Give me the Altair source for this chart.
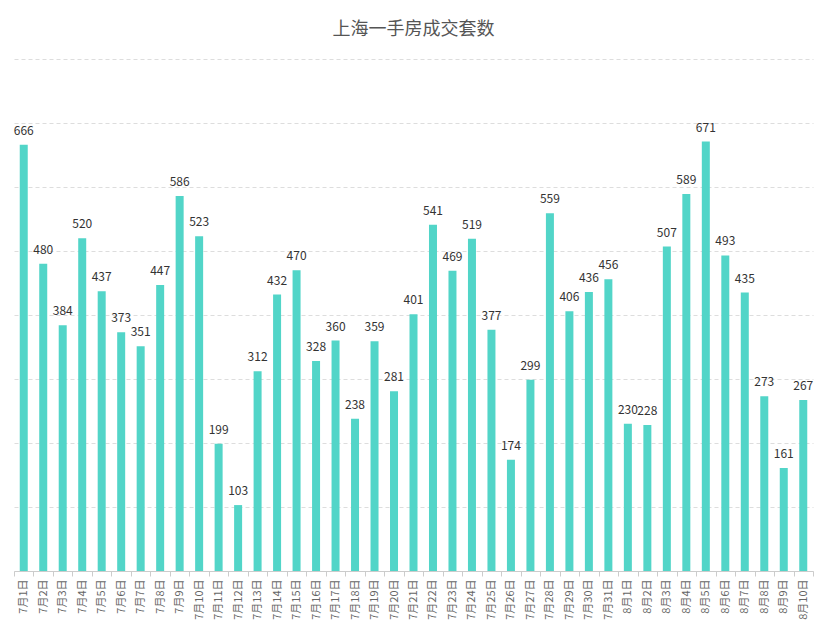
import altair as alt
import pandas as pd

days = [f"7月{i}日" for i in range(1, 32)] + [f"8月{i}日" for i in range(1, 11)]
values = [666, 480, 384, 520, 437, 373, 351, 447, 586, 523, 199, 103, 312, 432, 470,
          328, 360, 238, 359, 281, 401, 541, 469, 519, 377, 174, 299, 559, 406, 436,
          456, 230, 228, 507, 589, 671, 493, 435, 273, 161, 267]
grid_values = [0, 100, 200, 300, 400, 500, 600, 700, 800]

df = pd.DataFrame({"day": days, "count": values})

FONT = "Noto Sans CJK SC"

x = alt.X("day:N", sort=days, title=None,
          scale=alt.Scale(paddingInner=0, paddingOuter=0),
          axis=alt.Axis(labelAngle=-90, labelFontSize=11, labelColor="#666666",
                        labelFont=FONT, tickColor="#cccccc", domainColor="#cccccc",
                        tickSize=5, labelPadding=3, tickBand="extent", grid=False))
y = alt.Y("count:Q", title=None,
          scale=alt.Scale(domain=[0, 800], nice=False),
          axis=alt.Axis(values=grid_values, labels=False, ticks=False, domain=False,
                        grid=True, gridColor="#dddddd", gridDash=[4, 3]))

bars = alt.Chart(df).mark_bar(size=8, color="#52d5c8").encode(x=x, y=y)
text = alt.Chart(df).mark_text(baseline="bottom", dy=-7, fontSize=12,
                               color="#333333", font=FONT).encode(
    x=alt.X("day:N", sort=days), y="count:Q", text="count:Q")

chart = (bars + text).properties(
    width=799, height=512,
    title=alt.TitleParams("上海一手房成交套数", fontSize=18, font=FONT,
                          fontWeight="normal", color="#555555", offset=20,
                          anchor="middle"),
    autosize=alt.AutoSizeParams(type="none"),
    padding={"left": 6, "top": 51, "right": 8, "bottom": 50},
).configure_view(stroke=None)

chart.save("out.html", embed_options={"renderer": "svg", "actions": False})
